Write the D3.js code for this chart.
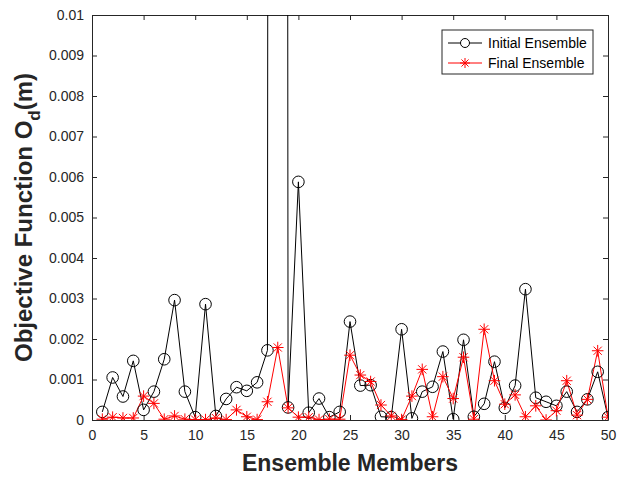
<!DOCTYPE html>
<html>
<head>
<meta charset="utf-8">
<script src="https://cdn.jsdelivr.net/npm/d3@7"></script>
<style>
  html, body { margin: 0; padding: 0; background: #fff; }
  svg { display: block; font-family: "Liberation Sans", Arial, Helvetica, sans-serif; }
</style>
</head>
<body>
<svg id="chart" width="618" height="477"></svg>
<script>
// Ensemble member indices
const members = d3.range(1, 51);

// Objective function per member, initial ensemble (member 18 lies far above the axis limit)
const initialValues = [
  0.00020, 0.00105, 0.00058, 0.00146, 0.00025, 0.00070, 0.00150, 0.00296, 0.00070, 0.00007,
  0.00286, 0.00010, 0.00052, 0.00081, 0.00072, 0.00093, 0.00172, 0.30000, 0.00031, 0.00588,
  0.00018, 0.00053, 0.00007, 0.00020, 0.00243, 0.00085, 0.00086, 0.00008, 0.00007, 0.00224,
  0.00004, 0.00070, 0.00082, 0.00169, 0.00002, 0.00198, 0.00008, 0.00040, 0.00144, 0.00030,
  0.00085, 0.00323, 0.00055, 0.00045, 0.00035, 0.00070, 0.00020, 0.00051, 0.00119, 0.00007
];

// Objective function per member, final ensemble
const finalValues = [
  0.00002, 0.00007, 0.00005, 0.00005, 0.00059, 0.00041, 0.00002, 0.00010, 0.00002, 0.00001,
  0.00001, 0.00005, 0.00001, 0.00025, 0.00008, 0.00001, 0.00045, 0.00179, 0.00030, 0.00007,
  0.00007, 0.00001, 0.00002, 0.00002, 0.00160, 0.00111, 0.00095, 0.00037, 0.00010, 0.00001,
  0.00059, 0.00125, 0.00008, 0.00107, 0.00053, 0.00155, 0.00002, 0.00224, 0.00097, 0.00039,
  0.00062, 0.00008, 0.00035, 0.00000, 0.00023, 0.00097, 0.00012, 0.00051, 0.00171, 0.00007
];

const xTicks = [0, 5, 10, 15, 20, 25, 30, 35, 40, 45, 50];
const yTicks = [0, 0.001, 0.002, 0.003, 0.004, 0.005, 0.006, 0.007, 0.008, 0.009, 0.01];
const yTickLabels = ["0", "0.001", "0.002", "0.003", "0.004", "0.005", "0.006", "0.007", "0.008", "0.009", "0.01"];
const seriesNames = ["Initial Ensemble", "Final Ensemble"];

const margin = { left: 92, right: 10, top: 15, bottom: 57 };
const W = 618, H = 477;
const svg = d3.select("#chart");

const x = d3.scaleLinear().domain([0, 50]).range([margin.left, W - margin.right]);
const y = d3.scaleLinear().domain([0, 0.01]).range([H - margin.bottom, margin.top]);

// Clip marks to the axes box
svg.append("clipPath").attr("id", "plotClip")
  .append("rect")
  .attr("x", x(0)).attr("y", y(0.01))
  .attr("width", x(50) - x(0)).attr("height", y(0) - y(0.01));

const tickLen = 5;
const axisColor = "#262626";

// Bottom / top axes (ticks pointing inward)
const xAxis = svg.append("g").attr("transform", `translate(0,${y(0)})`)
  .call(d3.axisBottom(x).tickValues(xTicks).tickSizeInner(-tickLen).tickSizeOuter(0).tickPadding(10));
const xAxisTop = svg.append("g").attr("transform", `translate(0,${y(0.01)})`)
  .call(d3.axisTop(x).tickValues(xTicks).tickSizeInner(-tickLen).tickSizeOuter(0).tickFormat(""));
// Left / right axes
const yAxis = svg.append("g").attr("transform", `translate(${x(0)},0)`)
  .call(d3.axisLeft(y).tickValues(yTicks).tickSizeInner(-tickLen).tickSizeOuter(0).tickPadding(8)
    .tickFormat((d, i) => yTickLabels[i]));
const yAxisRight = svg.append("g").attr("transform", `translate(${x(50)},0)`)
  .call(d3.axisRight(y).tickValues(yTicks).tickSizeInner(-tickLen).tickSizeOuter(0).tickFormat(""));

[xAxis, xAxisTop, yAxis, yAxisRight].forEach(g => {
  g.select(".domain").attr("stroke", axisColor).attr("stroke-width", 1);
  g.selectAll(".tick line").attr("stroke", axisColor);
  g.selectAll(".tick text").attr("fill", axisColor).style("font-size", "14px");
});

// Series lines and markers
const line = d3.line().x((d, i) => x(members[i])).y(d => y(d));
const plot = svg.append("g").attr("clip-path", "url(#plotClip)");

plot.append("path").datum(initialValues)
  .attr("d", line).attr("fill", "none").attr("stroke", "#000").attr("stroke-width", 1);
plot.append("path").datum(finalValues)
  .attr("d", line).attr("fill", "none").attr("stroke", "#ff0000").attr("stroke-width", 1);

const circleR = 5.8;
plot.selectAll("circle.init").data(initialValues).enter().append("circle")
  .attr("class", "init")
  .attr("cx", (d, i) => x(members[i])).attr("cy", d => y(d)).attr("r", circleR)
  .attr("fill", "none").attr("stroke", "#000").attr("stroke-width", 1);

// Asterisk marker: plus and cross overlaid
const starR = 5.8;
const starPath = (cx, cy, r) => {
  const k = r * Math.SQRT1_2;
  return `M${cx - r},${cy}L${cx + r},${cy}M${cx},${cy - r}L${cx},${cy + r}` +
    `M${cx - k},${cy - k}L${cx + k},${cy + k}M${cx - k},${cy + k}L${cx + k},${cy - k}`;
};
plot.selectAll("path.fin").data(finalValues).enter().append("path")
  .attr("class", "fin")
  .attr("d", (d, i) => starPath(x(members[i]), y(d), starR))
  .attr("fill", "none").attr("stroke", "#ff0000").attr("stroke-width", 1);

// Axis titles
svg.append("text")
  .attr("x", x(25)).attr("y", 471)
  .attr("text-anchor", "middle")
  .style("font-size", "23px").style("font-weight", "bold").attr("fill", "#262626")
  .text("Ensemble Members");

const yTitle = svg.append("text")
  .attr("transform", `translate(32,${(y(0) + y(0.01)) / 2}) rotate(-90)`)
  .attr("text-anchor", "middle")
  .style("font-size", "24px").style("font-weight", "bold").attr("fill", "#262626");
yTitle.append("tspan").text("Objective Function O");
yTitle.append("tspan").attr("dy", 8).style("font-size", "17px").text("d");
yTitle.append("tspan").attr("dy", -8).text("(m)");

// Legend
const lg = svg.append("g").attr("transform", "translate(442,30)");
lg.append("rect").attr("width", 151).attr("height", 44)
  .attr("fill", "#fff").attr("stroke", axisColor).attr("stroke-width", 1);
const legendRows = [
  { name: seriesNames[0], color: "#000", marker: "circle" },
  { name: seriesNames[1], color: "#ff0000", marker: "star" }
];
legendRows.forEach((r, i) => {
  const cy = 13 + i * 20;
  lg.append("line").attr("x1", 6).attr("x2", 40).attr("y1", cy).attr("y2", cy)
    .attr("stroke", r.color).attr("stroke-width", 1);
  if (r.marker === "circle") {
    lg.append("circle").attr("cx", 23).attr("cy", cy).attr("r", 4.5)
      .attr("fill", "#fff").attr("stroke", r.color);
  } else {
    lg.append("path").attr("d", starPath(23, cy, 5)).attr("stroke", r.color).attr("fill", "none");
  }
  lg.append("text").attr("x", 46).attr("y", cy + 5)
    .style("font-size", "14px").attr("fill", "#000").text(r.name);
});
</script>
</body>
</html>
